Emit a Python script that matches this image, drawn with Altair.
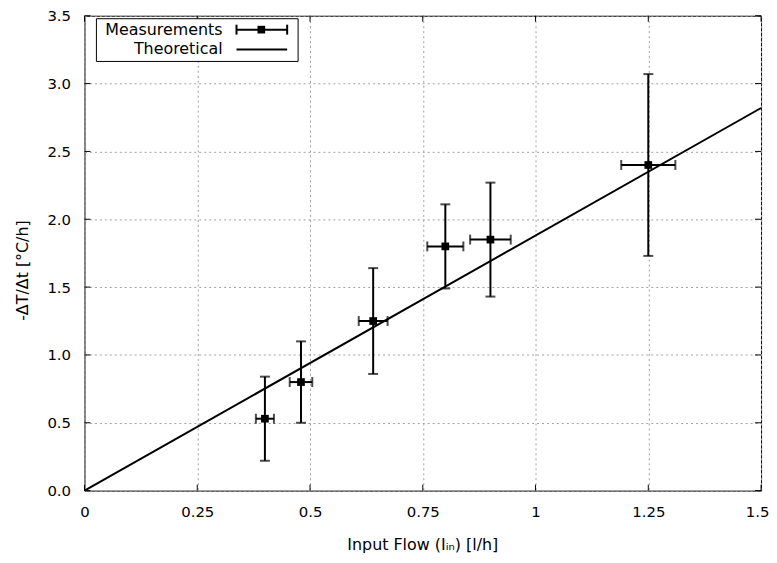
import altair as alt
import pandas as pd

# ---- data ----
flow = [0.40, 0.48, 0.64, 0.80, 0.90, 1.25]
flow_err = [0.02, 0.025, 0.032, 0.04, 0.045, 0.06]
rate = [0.53, 0.80, 1.25, 1.80, 1.85, 2.40]
rate_err = [0.31, 0.30, 0.39, 0.31, 0.42, 0.67]

theory_x = [0.0, 1.5]
theory_y = [0.0, 2.82]

x_ticks = [0, 0.25, 0.5, 0.75, 1.0, 1.25, 1.5]
y_ticks = [0, 0.5, 1.0, 1.5, 2.0, 2.5, 3.0, 3.5]

W, H = 681, 478
FONT = "DejaVu Sans"

meas = pd.DataFrame({
    "x": flow, "y": rate,
    "xlo": [a - b for a, b in zip(flow, flow_err)],
    "xhi": [a + b for a, b in zip(flow, flow_err)],
    "ylo": [a - b for a, b in zip(rate, rate_err)],
    "yhi": [a + b for a, b in zip(rate, rate_err)],
})
theo = pd.DataFrame({"x": theory_x, "y": theory_y})
xt = pd.DataFrame({"x": x_ticks})
yt = pd.DataFrame({"y": y_ticks})
one = pd.DataFrame({"k": [0]})

xscale = alt.Scale(domain=[0, 1.5], nice=False, zero=False)
yscale = alt.Scale(domain=[0, 3.5], nice=False, zero=False)

xaxis = alt.Axis(
    values=x_ticks, labelExpr="'' + datum.value", grid=True, gridDash=[2, 3],
    gridColor="#a0a0a0", gridWidth=1, domain=False, ticks=False, labelFont=FONT,
    labelFontSize=15, labelColor="black", labelPadding=14, labelFlush=False,
    labelAlign={"condition": {"test": "datum.value >= 1.5", "value": "right"}, "value": "center"},
    labelOffset={"condition": {"test": "datum.value >= 1.5", "value": 8}, "value": 0},
    title="Input Flow (Iᵢₙ) [l/h]", titleFont=FONT, titleFontSize=16,
    titleFontWeight="normal", titleColor="black", titleX=340, titleY=54,
    titleBaseline="middle", titleAlign="center",
)
yaxis = alt.Axis(
    values=y_ticks, format=".1f", grid=True, gridDash=[2, 3], gridColor="#a0a0a0",
    gridWidth=1, domain=False, ticks=False, labelFont=FONT, labelFontSize=15,
    labelColor="black", labelPadding=14, labelFlush=False,
    title="-ΔT/Δt [°C/h]", titleFont=FONT, titleFontSize=16,
    titleFontWeight="normal", titleColor="black", titleX=-62, titleY=256,
    titleAngle=-90, titleBaseline="middle", titleAlign="center",
)


def X(f):
    return alt.X(f, type="quantitative", scale=xscale, axis=xaxis)


def Y(f):
    return alt.Y(f, type="quantitative", scale=yscale, axis=yaxis)


line = alt.Chart(theo).mark_line(color="black", strokeWidth=2).encode(x=X("x"), y=Y("y"))

vbar = alt.Chart(meas).mark_rule(color="black", strokeWidth=2).encode(
    x=X("x"), y=Y("ylo"), y2="yhi")
hbar = alt.Chart(meas).mark_rule(color="black", strokeWidth=2).encode(
    x=X("xlo"), x2="xhi", y=Y("y"))
cap_lo = alt.Chart(meas).mark_tick(color="black", orient="horizontal", size=10, thickness=2).encode(
    x=X("x"), y=Y("ylo"))
cap_hi = alt.Chart(meas).mark_tick(color="black", orient="horizontal", size=10, thickness=2).encode(
    x=X("x"), y=Y("yhi"))
cap_l = alt.Chart(meas).mark_tick(color="black", orient="vertical", size=10, thickness=2).encode(
    x=X("xlo"), y=Y("y"))
cap_r = alt.Chart(meas).mark_tick(color="black", orient="vertical", size=10, thickness=2).encode(
    x=X("xhi"), y=Y("y"))
pts = alt.Chart(meas).mark_square(color="black", size=60, opacity=1, filled=True).encode(
    x=X("x"), y=Y("y"))

# inward tick marks on all four borders
tb = alt.Chart(xt).mark_rule(color="black", strokeWidth=1).encode(
    x=X("x"), y=alt.value(H), y2=alt.value(H - 6))
tt = alt.Chart(xt).mark_rule(color="black", strokeWidth=1).encode(
    x=X("x"), y=alt.value(0), y2=alt.value(6))
tl = alt.Chart(yt).mark_rule(color="black", strokeWidth=1).encode(
    y=Y("y"), x=alt.value(0), x2=alt.value(6))
tr = alt.Chart(yt).mark_rule(color="black", strokeWidth=1).encode(
    y=Y("y"), x=alt.value(W), x2=alt.value(W - 6))

# legend
lbox = alt.Chart(one).mark_rect(fill="white", stroke="black", strokeWidth=1).encode(
    x=alt.value(12), x2=alt.value(215), y=alt.value(3), y2=alt.value(46))
ltxt1 = alt.Chart(one).mark_text(text="Measurements", font=FONT, fontSize=16, align="right",
                                 baseline="middle", color="black").encode(
    x=alt.value(139), y=alt.value(14))
ltxt2 = alt.Chart(one).mark_text(text="Theoretical", font=FONT, fontSize=16, align="right",
                                 baseline="middle", color="black").encode(
    x=alt.value(139), y=alt.value(34))
lm_line = alt.Chart(one).mark_rule(color="black", strokeWidth=2).encode(
    x=alt.value(153), x2=alt.value(204), y=alt.value(14))
lm_c1 = alt.Chart(one).mark_rule(color="black", strokeWidth=2).encode(
    x=alt.value(153), y=alt.value(9), y2=alt.value(19))
lm_c2 = alt.Chart(one).mark_rule(color="black", strokeWidth=2).encode(
    x=alt.value(204), y=alt.value(9), y2=alt.value(19))
lm_sq = alt.Chart(one).mark_square(color="black", size=60, opacity=1, filled=True).encode(
    x=alt.value(178), y=alt.value(14))
lt_line = alt.Chart(one).mark_rule(color="black", strokeWidth=2).encode(
    x=alt.value(153), x2=alt.value(204), y=alt.value(34))

chart = alt.layer(
    line, vbar, hbar, cap_lo, cap_hi, cap_l, cap_r, pts,
    tb, tt, tl, tr,
    lbox, ltxt1, ltxt2, lm_line, lm_c1, lm_c2, lm_sq, lt_line,
).properties(
    width=W, height=H,
    autosize=alt.AutoSizeParams(type="none"),
    padding={"left": 77, "top": 6, "right": 8, "bottom": 61},
    background="white",
).configure_view(stroke="black", strokeWidth=1)

chart.save("out.html", embed_options={"renderer": "svg", "actions": False})
